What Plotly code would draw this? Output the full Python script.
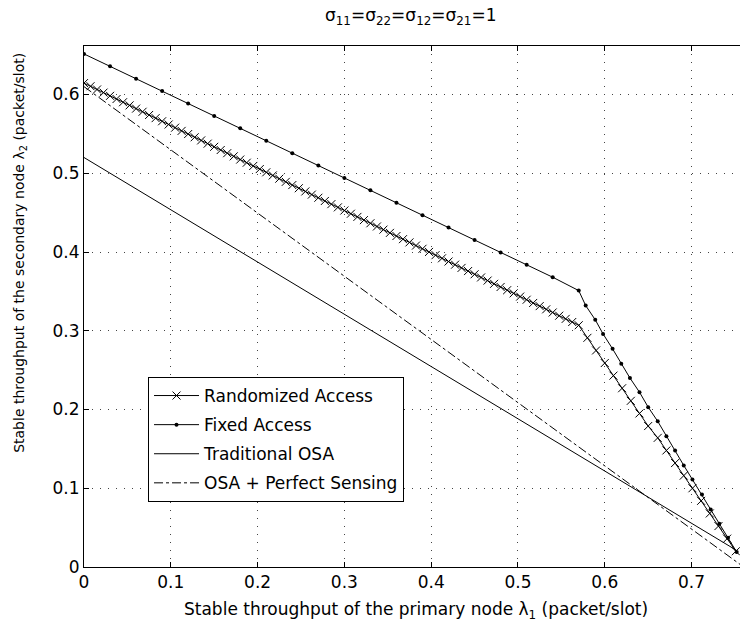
import plotly.graph_objects as go

# ---- data ----
rand_x = [0.0, 0.0075, 0.015, 0.0225, 0.03, 0.0375, 0.045, 0.0525, 0.06, 0.0675,
          0.075, 0.0825, 0.09, 0.0975, 0.105, 0.1125, 0.12, 0.1275, 0.135, 0.1425,
          0.15, 0.1575, 0.165, 0.1725, 0.18, 0.1875, 0.195, 0.2025, 0.21, 0.2175,
          0.225, 0.2325, 0.24, 0.2475, 0.255, 0.2625, 0.27, 0.2775, 0.285, 0.2925,
          0.30, 0.3075, 0.315, 0.3225, 0.33, 0.3375, 0.345, 0.3525, 0.36, 0.3675,
          0.375, 0.3825, 0.39, 0.3975, 0.405, 0.4125, 0.42, 0.4275, 0.435, 0.4425,
          0.45, 0.4575, 0.465, 0.4725, 0.48, 0.4875, 0.495, 0.5025, 0.51, 0.5175,
          0.525, 0.5325, 0.54, 0.5475, 0.555, 0.5625, 0.57,
          0.580, 0.590, 0.600, 0.610, 0.620, 0.630, 0.640, 0.650, 0.661, 0.671,
          0.681, 0.691, 0.701, 0.711, 0.721, 0.731, 0.741, 0.751]
rand_y = [0.6145, 0.6105, 0.6064, 0.6024, 0.5983, 0.5943, 0.5902, 0.5862, 0.5821, 0.5781,
          0.5740, 0.5700, 0.5660, 0.5619, 0.5579, 0.5538, 0.5498, 0.5457, 0.5417, 0.5376,
          0.5336, 0.5295, 0.5255, 0.5215, 0.5174, 0.5134, 0.5093, 0.5053, 0.5012, 0.4972,
          0.4931, 0.4891, 0.4850, 0.4810, 0.4769, 0.4729, 0.4689, 0.4648, 0.4608, 0.4567,
          0.4527, 0.4486, 0.4446, 0.4405, 0.4365, 0.4324, 0.4284, 0.4243, 0.4203, 0.4163,
          0.4122, 0.4082, 0.4041, 0.4001, 0.3960, 0.3920, 0.3879, 0.3839, 0.3798, 0.3758,
          0.3717, 0.3677, 0.3637, 0.3596, 0.3556, 0.3515, 0.3475, 0.3434, 0.3394, 0.3353,
          0.3313, 0.3272, 0.3232, 0.3191, 0.3151, 0.3111, 0.3070,
          0.291, 0.275, 0.259, 0.243, 0.227, 0.211, 0.195, 0.179, 0.164, 0.148,
          0.132, 0.116, 0.100, 0.084, 0.068, 0.052, 0.036, 0.020]

fixed_x = [0.0, 0.03, 0.06, 0.09, 0.12, 0.15, 0.18, 0.21, 0.24, 0.27,
           0.30, 0.33, 0.36, 0.39, 0.42, 0.45, 0.48, 0.51, 0.54, 0.57,
           0.578, 0.589, 0.598, 0.609, 0.619, 0.629, 0.640, 0.650, 0.661, 0.671,
           0.681, 0.691, 0.701, 0.712, 0.722, 0.732, 0.742, 0.752]
fixed_y = [0.6515, 0.6358, 0.6200, 0.6043, 0.5885, 0.5728, 0.5570, 0.5413, 0.5255, 0.5098,
           0.4940, 0.4783, 0.4625, 0.4468, 0.4310, 0.4153, 0.3995, 0.3838, 0.3680, 0.3510,
           0.332, 0.314, 0.296, 0.277, 0.258, 0.240, 0.222, 0.203, 0.185, 0.166,
           0.148, 0.129, 0.111, 0.092, 0.073, 0.055, 0.037, 0.019]

trad_x = [0.0, 0.752]
trad_y = [0.52, 0.021]

perf_x = [0.0, 0.76]
perf_y = [0.61, 0.0]

x_ticks = [0, 0.1, 0.2, 0.3, 0.4, 0.5, 0.6, 0.7]
x_tick_labels = ["0", "0.1", "0.2", "0.3", "0.4", "0.5", "0.6", "0.7"]
y_ticks = [0, 0.1, 0.2, 0.3, 0.4, 0.5, 0.6]
y_tick_labels = ["0", "0.1", "0.2", "0.3", "0.4", "0.5", "0.6"]

FONT = "DejaVu Sans, Liberation Sans, Arial, sans-serif"

fig = go.Figure()
fig.add_trace(go.Scatter(
    x=rand_x, y=rand_y, mode="lines+markers", name="Randomized Access",
    legendgroup="a",
    line=dict(color="black", width=1),
    marker=dict(symbol="x-thin-open", size=8, color="black", line=dict(color="black", width=1)),
))
fig.add_trace(go.Scatter(
    x=fixed_x, y=fixed_y, mode="lines+markers", name="Fixed Access",
    legendgroup="b",
    line=dict(color="black", width=1),
    marker=dict(symbol="circle", size=4, color="black"),
))
fig.add_trace(go.Scatter(
    x=trad_x, y=trad_y, mode="lines", name="Traditional OSA",
    legendgroup="c",
    line=dict(color="black", width=1),
))
fig.add_trace(go.Scatter(
    x=perf_x, y=perf_y, mode="lines", name="OSA + Perfect Sensing",
    legendgroup="d",
    line=dict(color="black", width=1, dash="dashdot"),
))

axis_common = dict(
    showline=True, linecolor="black", linewidth=1,
    ticks="inside", ticklen=5, tickcolor="black",
    showgrid=True, gridcolor="#444", gridwidth=1, griddash="1px,7px",
    zeroline=False,
    tickfont=dict(family=FONT, size=17, color="black"),
)

fig.update_xaxes(range=[0, 0.7558], tickvals=x_ticks, ticktext=x_tick_labels,
                 mirror="ticks", **axis_common)
fig.update_yaxes(range=[0, 0.6616], tickvals=y_ticks, ticktext=y_tick_labels,
                 mirror=False, **axis_common)

fig.update_layout(
    width=740, height=630,
    margin=dict(l=84, r=0, t=46, b=63),
    paper_bgcolor="white", plot_bgcolor="white",
    font=dict(family=FONT, size=17, color="black"),
    showlegend=True,
    legend=dict(
        x=0.0976, y=0.3647, xanchor="left", yanchor="top",
        bgcolor="white", bordercolor="black", borderwidth=1,
        font=dict(family=FONT, size=17, color="black"),
        tracegroupgap=4, itemwidth=45,
    ),
    annotations=[
        dict(text="σ<sub>11</sub>=σ<sub>22</sub>=σ<sub>12</sub>=σ<sub>21</sub>=1",
             xref="paper", yref="paper", x=0.4985, y=1, yshift=30, yanchor="middle",
             showarrow=False, font=dict(family=FONT, size=17, color="black")),
        dict(text="Stable throughput of the primary node λ<sub>1</sub> (packet/slot)",
             xref="paper", yref="paper", x=0.506, y=0, yshift=-43, yanchor="middle",
             showarrow=False, font=dict(family=FONT, size=17, color="black")),
        dict(text="Stable throughput of the secondary node λ<sub>2</sub> (packet/slot)",
             xref="paper", yref="paper", x=0, xshift=-64, y=0.603, xanchor="center",
             yanchor="middle", textangle=-90,
             showarrow=False, font=dict(family=FONT, size=14, color="black")),
    ],
)

fig.write_html("out.html", config={"displayModeBar": False},
               post_script="document.body.style.margin='0px';document.body.style.overflow='hidden';")
